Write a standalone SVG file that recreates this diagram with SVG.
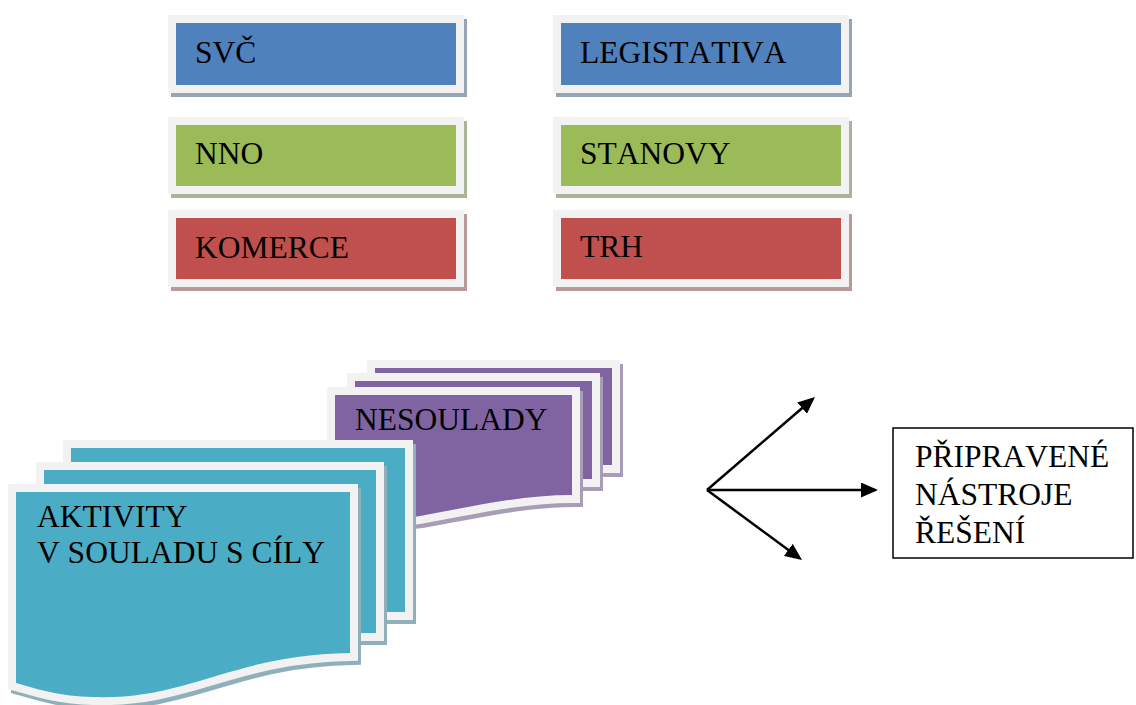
<svg xmlns="http://www.w3.org/2000/svg" width="1136" height="705" viewBox="0 0 1136 705">
  <defs>
    <style>
      .frame { stroke: #f2f2f2; stroke-width: 16; paint-order: stroke; stroke-linejoin: miter; }
      .sh { stroke-width: 16; stroke-linejoin: miter; }
      .lbl { font-family: "Liberation Serif", "Times New Roman", serif; font-size: 31.5px; fill: #000; font-kerning: none; font-feature-settings: "kern" 0; }
      .blue { fill: #4f81bd; }
      .green { fill: #9bbb59; }
      .red { fill: #c0504d; }
      .purple { fill: #8064a2; }
      .teal { fill: #4bacc6; }
      .sh-blue { fill: #97a4b6; stroke: #97a4b6; }
      .sh-green { fill: #a9b596; stroke: #a9b596; }
      .sh-red { fill: #b99a99; stroke: #b99a99; }
      .sh-purple { fill: #a89db6; stroke: #a89db6; }
      .sh-teal { fill: #8fb0bb; stroke: #8fb0bb; }
      .conn { stroke: #000; stroke-width: 2.5; fill: none; marker-end: url(#arrow); }
    </style>
    <marker id="arrow" markerUnits="userSpaceOnUse" markerWidth="17" markerHeight="15" refX="14" refY="7.5" orient="auto">
      <path d="M0,0 L17,7.5 L0,15 Z" fill="#000"/>
    </marker>
    <path id="tealFront" d="M16,492 H350 V653 C230,655 190,700 93,697 C60,696 40,690 16,683 Z"/>
    <path id="purpleFront" d="M335,395 H572 V495 C520,495 470,507 420,516 C390,521 360,518 335,512 Z"/>
  </defs>
  <rect width="1136" height="705" fill="#fff"/>

  <!-- Top boxes -->
  <g id="svc">
    <rect class="sh sh-blue" x="179" y="27" width="280" height="62"/>
    <rect class="frame blue" x="176" y="23" width="280" height="62"/>
    <text class="lbl" x="195" y="63">SVČ</text>
  </g>
  <g id="legistativa">
    <rect class="sh sh-blue" x="564" y="27" width="280" height="62"/>
    <rect class="frame blue" x="561" y="23" width="280" height="62"/>
    <text class="lbl" x="580" y="63">LEGISTATIVA</text>
  </g>
  <g id="nno">
    <rect class="sh sh-green" x="179" y="129" width="280" height="61"/>
    <rect class="frame green" x="176" y="125" width="280" height="61"/>
    <text class="lbl" x="195" y="164">NNO</text>
  </g>
  <g id="stanovy">
    <rect class="sh sh-green" x="564" y="129" width="280" height="61"/>
    <rect class="frame green" x="561" y="125" width="280" height="61"/>
    <text class="lbl" x="580" y="164">STANOVY</text>
  </g>
  <g id="komerce">
    <rect class="sh sh-red" x="179" y="222" width="280" height="61"/>
    <rect class="frame red" x="176" y="218" width="280" height="61"/>
    <text class="lbl" x="195" y="258">KOMERCE</text>
  </g>
  <g id="trh">
    <rect class="sh sh-red" x="564" y="222" width="280" height="61"/>
    <rect class="frame red" x="561" y="218" width="280" height="61"/>
    <text class="lbl" x="580" y="257">TRH</text>
  </g>

  <!-- Purple multidocument -->
  <g id="nesoulady">
    <rect class="sh sh-purple" x="378" y="372" width="237" height="97"/>
    <rect class="frame purple" x="375" y="368" width="237" height="97"/>
    <rect class="sh sh-purple" x="358" y="385" width="237" height="98"/>
    <rect class="frame purple" x="355" y="381" width="237" height="98"/>
    <use href="#purpleFront" class="sh sh-purple" transform="translate(3,4)"/>
    <use href="#purpleFront" class="frame purple"/>
    <text class="lbl" x="355" y="430">NESOULADY</text>
  </g>

  <!-- Teal multidocument -->
  <g id="aktivity">
    <rect class="sh sh-teal" x="74" y="452" width="334" height="164"/>
    <rect class="frame teal" x="71" y="448" width="334" height="164"/>
    <rect class="sh sh-teal" x="47" y="474" width="332" height="163"/>
    <rect class="frame teal" x="44" y="470" width="332" height="163"/>
    <use href="#tealFront" class="sh sh-teal" transform="translate(3,4)"/>
    <use href="#tealFront" class="frame teal"/>
    <text class="lbl" x="37" y="527">AKTIVITY</text>
    <text class="lbl" x="37" y="563">V SOULADU S CÍLY</text>
  </g>

  <!-- Connectors -->
  <g id="connectors">
    <line class="conn" x1="707" y1="490" x2="812.7" y2="399"/>
    <line class="conn" x1="707" y1="490" x2="875" y2="490"/>
    <line class="conn" x1="707" y1="490" x2="799.6" y2="558.2"/>
  </g>

  <!-- Right box -->
  <g id="pripravene">
    <rect x="893" y="428" width="240" height="130" fill="#fff" stroke="#000" stroke-width="1.5"/>
    <text class="lbl" x="915" y="467">PŘIPRAVENÉ</text>
    <text class="lbl" x="915" y="505">NÁSTROJE</text>
    <text class="lbl" x="915" y="543">ŘEŠENÍ</text>
  </g>
</svg>
